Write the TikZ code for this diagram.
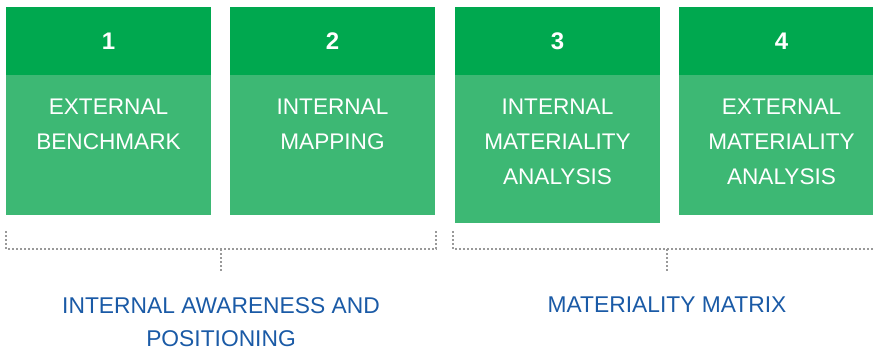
\documentclass[tikz,border=0pt]{standalone}
\usepackage{fontspec}
\setmainfont{Liberation Sans}
\usetikzlibrary{positioning}
\definecolor{headgreen}{HTML}{00A84F}
\definecolor{bodygreen}{HTML}{3DB874}
\definecolor{phaseblue}{HTML}{1A5AA6}
\definecolor{dotgray}{HTML}{999999}

\begin{document}
\begin{tikzpicture}[x=1pt,y=-1pt,
    head/.style={fill=headgreen, text=white, minimum width=205pt, minimum height=68pt,
        inner sep=0pt, font=\fontsize{24}{24}\selectfont\bfseries},
    body/.style={fill=bodygreen, minimum width=205pt, minimum height=140pt, inner sep=0pt},
    bodytext/.style={text=white, align=center, inner sep=0pt, font=\fontsize{22.6}{35}\selectfont},
    phase/.style={text=phaseblue, align=center, inner sep=0pt, font=\fontsize{22.8}{33}\selectfont},
    bracket/.style={dotgray, line width=1.6pt, dash pattern=on 1.6pt off 2.4pt}]
    \clip (0,0) rectangle (873,350);

    % Draw the four steps
    \node[head] (h1) at (108.5,41) {1};
    \node[body, below=0pt of h1] (b1) {};
    \node[bodytext, below=24pt of b1.north] (t1) {EXTERNAL\\BENCHMARK};

    \node[head] (h2) at (332.5,41) {2};
    \node[body, below=0pt of h2] (b2) {};
    \node[bodytext, below=24pt of b2.north] (t2) {INTERNAL\\MAPPING};

    \node[head] (h3) at (557.5,41) {3};
    \node[body, minimum height=148pt, below=0pt of h3] (b3) {};
    \node[bodytext, below=24pt of b3.north] (t3) {INTERNAL\\MATERIALITY\\ANALYSIS};

    \node[head] (h4) at (781.5,41) {4};
    \node[body, below=0pt of h4] (b4) {};
    \node[bodytext, below=24pt of b4.north] (t4) {EXTERNAL\\MATERIALITY\\ANALYSIS};

    % Draw the brackets
    \coordinate (l1) at (6,231);
    \coordinate (r1) at (436,231);
    \coordinate (m1) at (221,249);
    \coordinate (k1) at (221,271);
    \draw[bracket] (l1) |- (r1 |- m1) -- (r1);
    \draw[bracket] (m1) -- (k1);

    \coordinate (l2) at (453,231);
    \coordinate (r2) at (881,231);
    \coordinate (m2) at (667,249);
    \coordinate (k2) at (667,271);
    \draw[bracket] (l2) |- (r2 |- m2) -- (r2);
    \draw[bracket] (m2) -- (k2);

    % Phase labels
    \node[phase, below=26pt of k1] (p1) {INTERNAL AWARENESS AND\\POSITIONING};
    \node[phase, below=26pt of k2] (p2) {MATERIALITY MATRIX};
\end{tikzpicture}
\end{document}
